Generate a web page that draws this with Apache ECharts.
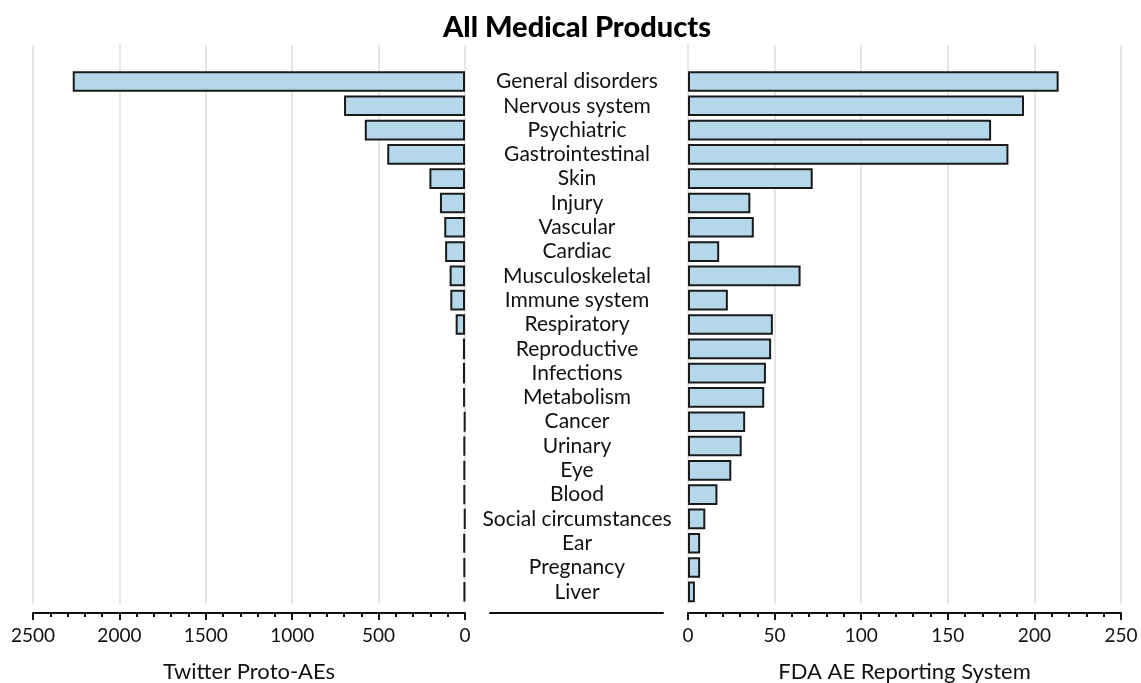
<!DOCTYPE html>
<html><head><meta charset="utf-8">
<script src="https://cdn.jsdelivr.net/npm/echarts@6/dist/echarts.min.js"></script>
<style>html,body{margin:0;padding:0;background:#fff;overflow:hidden}#c{width:1141px;height:683px}</style>
</head><body><div id="c"></div>
<script>
const categories = ['General disorders','Nervous system','Psychiatric','Gastrointestinal','Skin','Injury','Vascular','Cardiac','Musculoskeletal','Immune system','Respiratory','Reproductive','Infections','Metabolism','Cancer','Urinary','Eye','Blood','Social circumstances','Ear','Pregnancy','Liver'];
const twitterValues = [2270,700,580,450,206,145,120,115,89,85,54,12,12,11,4,8,8,8,3,9,8,7];
const faersValues = [214,194,175,185,72,36,38,18,65,23,49,48,45,44,33,31,25,17,10,7,7,4];
const leftTicks = [0,500,1000,1500,2000,2500];
const rightTicks = [0,50,100,150,200,250];

const FONT = 'Lato';
const rows = [''].concat(categories);
const barStyle = {color:'#b4d8ea', borderColor:'#1a1a1a', borderWidth:2};
const chart = echarts.init(document.getElementById('c'));
function valAxis(gi, ticks, inverse, name){
  return {type:'value', gridIndex:gi, min:ticks[0], max:ticks[ticks.length-1], interval:ticks[1]-ticks[0],
    inverse:inverse, position:'bottom', offset:9,
    name:name, nameLocation:'middle', nameGap:48, nameTextStyle:{fontFamily:FONT,fontSize:22,color:'#111'},
    axisLine:{show:true,lineStyle:{color:'#111',width:2}},
    axisTick:{show:true,length:7,lineStyle:{color:'#111',width:2}},
    minorTick:{show:true,splitNumber:5,length:4,lineStyle:{color:'#111',width:2}},
    axisLabel:{fontFamily:FONT,fontSize:19,color:'#111',margin:13,formatter:function(v){return String(v);}},
    splitLine:{show:true,lineStyle:{color:'#e6e6e6',width:2}}};
}
chart.setOption({
  animation:false,
  title:{text:'All Medical Products', left:572, textAlign:'center', top:8,
    textStyle:{fontFamily:FONT,fontWeight:900,fontSize:29,color:'#000'}},
  grid:[
    {left:33, width:432, top:45, height:559, containLabel:false, outerBoundsMode:'none'},
    {left:688, width:433, top:45, height:559, containLabel:false, outerBoundsMode:'none'},
    {left:490, width:173, top:45, height:559, containLabel:false, outerBoundsMode:'none'}
  ],
  xAxis:[
    valAxis(0, leftTicks, true, 'Twitter Proto-AEs'),
    valAxis(1, rightTicks, false, 'FDA AE Reporting System'),
    {type:'value', gridIndex:2, offset:9, axisLine:{show:true,lineStyle:{color:'#111',width:2}},
     axisTick:{show:false}, axisLabel:{show:false}, splitLine:{show:false}}
  ],
  yAxis:[
    {type:'category', gridIndex:0, data:rows, inverse:true, axisLine:{show:false}, axisTick:{show:false}, axisLabel:{show:false}},
    {type:'category', gridIndex:1, data:rows, inverse:true, axisLine:{show:false}, axisTick:{show:false},
     axisLabel:{show:true, interval:0, align:'center', margin:111, fontFamily:FONT, fontSize:21, color:'#111'}},
    {type:'category', gridIndex:2, data:rows, show:false}
  ],
  series:[
    {type:'bar', xAxisIndex:0, yAxisIndex:0, data:[null].concat(twitterValues), barCategoryGap:'15%', itemStyle:barStyle},
    {type:'bar', xAxisIndex:1, yAxisIndex:1, data:[null].concat(faersValues), barCategoryGap:'15%', itemStyle:barStyle}
  ]
});
</script></body></html>
